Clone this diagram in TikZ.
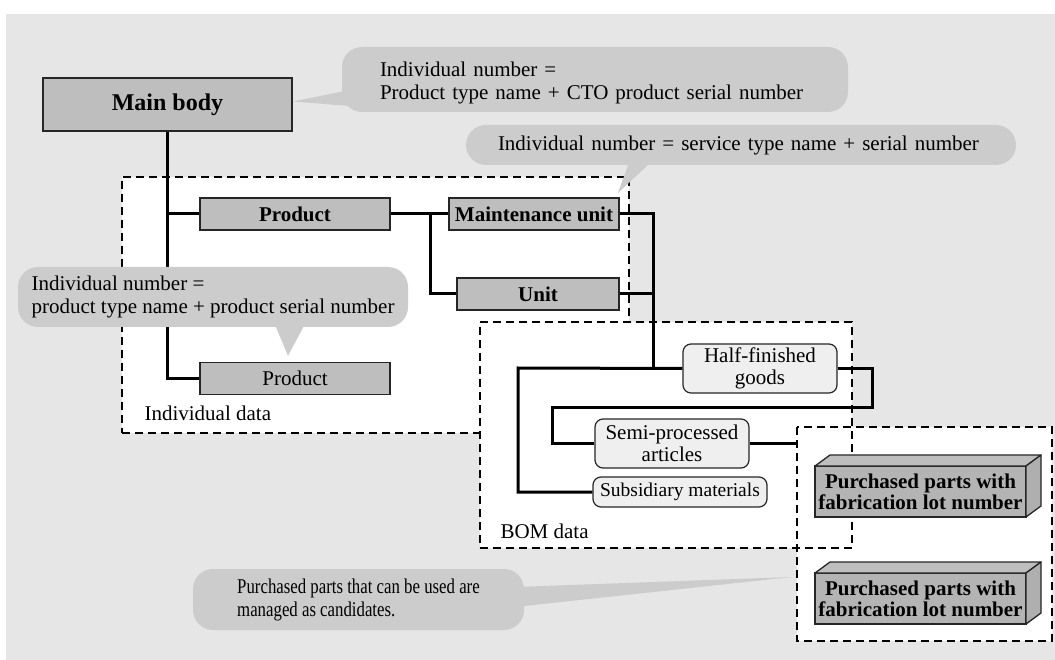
\documentclass[tikz,border=0pt]{standalone}
\usepackage{fontspec}
\setmainfont{Liberation Serif}
\newfontfamily\narrowserif[FakeStretch=0.8]{Liberation Serif}
\usetikzlibrary{positioning}

\definecolor{bggray}{HTML}{E6E6E6}
\definecolor{notegray}{HTML}{CCCCCC}
\definecolor{boxgray}{HTML}{BEBEBE}
\definecolor{softgray}{HTML}{EFEFEF}

\begin{document}
\begin{tikzpicture}[
    x=1pt, y=-1pt,
    font=\fontsize{21}{23}\selectfont,
    box/.style={draw=black!85, line width=1.5pt, fill=boxgray, minimum height=32pt, inner sep=0pt},
    bold/.style={font=\fontsize{21}{23}\selectfont\bfseries},
    soft/.style={draw=black!85, line width=1.2pt, fill=softgray, rounded corners=8pt, align=center, inner sep=0pt},
    block/.style={draw=black!85, line width=1.3pt, fill=boxgray!95!black, outer sep=0pt, minimum width=211pt, minimum height=51pt, inner sep=0pt, align=center, font=\fontsize{21}{21}\selectfont\bfseries},
    face/.style={draw=black!85, line width=1.3pt, line join=round},
    bubble/.style={fill=notegray, rounded corners=20pt, align=left, inner sep=0pt},
    area/.style={draw, line width=2pt, dash pattern=on 8pt off 5pt, fill=white, outer sep=0pt, inner sep=0pt},
    link/.style={line width=3pt}
]
\useasboundingbox (0,0) rectangle (1055,660);
\fill[bggray] (6,14) rectangle (1055,660);

\node[area, minimum width=507pt, minimum height=256pt] (indiv) at (375.5,305) {};
\node[area, draw=none, minimum width=255pt, minimum height=214pt] (buyarea) at (924.5,534) {};
\node[area, minimum width=372pt, minimum height=226pt] (bom) at (666,435) {};
\draw[area, fill=none] (buyarea.north west) rectangle (buyarea.south east);
\node[anchor=base west] (indivlabel) at (141,420) {Individual data};
\node[anchor=base west] (bomlabel) at (497,538) {BOM data};

\node[box, minimum width=249pt, minimum height=53pt, font=\fontsize{24}{24}\selectfont\bfseries] (body) at (167.5,104.5) {Main body};
\node[box, bold, minimum width=190pt] (prod) at (295,214) {Product};
\node[box, minimum width=190pt, below=131pt of prod] (prodind) {Product};
\node[box, bold, minimum width=170pt] (maint) at (534,214) {Maintenance unit};
\node[box, bold, minimum width=162pt] (unit) at (538,294) {Unit};

\node[soft, minimum width=154pt, minimum height=49pt, font=\fontsize{21}{22}\selectfont] (half) at (760,368.5) {Half-finished\\goods};
\node[soft, minimum width=154pt, minimum height=49pt, font=\fontsize{21}{22}\selectfont] (semi) at (672,443.5) {Semi-processed\\articles};
\node[soft, minimum width=174pt, minimum height=30pt, font=\fontsize{19.5}{20}\selectfont] (subs) at (680,492) {Subsidiary materials};

\node[block] (buy1) at (920.5,491.5) {Purchased parts with\\fabrication lot number};
\node[block, below=56pt of buy1] (buy2) {Purchased parts with\\fabrication lot number};
\foreach \b in {buy1,buy2} {
  \filldraw[face, fill=boxgray] (\b.north west) -- ++(15,-11) -- ++(211,0) -- (\b.north east) -- cycle;
  \filldraw[face, fill=boxgray!92!black] (\b.north east) -- ++(15,-11) -- ++(0,51) -- (\b.south east) -- cycle;
}

\coordinate (fork) at (430,214);
\coordinate (hub) at (653,368);
\coordinate (bomleft) at (518,368);
\coordinate (loopright) at (872,407);
\coordinate (loopleft) at (552,407);

\draw[link] (body.south) |- (prodind.west);
\draw[link] (body.south |- prod.west) -- (prod.west);
\draw[link] (prod) -- (maint);
\draw[link] (fork) |- (unit.west);
\draw[link] (maint.east) -| (hub);
\draw[link] (unit.east) -- (unit.east -| hub);
\draw[link] (half.west) -- (bomleft) |- (subs.west);
\draw[link] (half.east) -| (loopright) -- (loopleft) |- (semi.west);
\draw[link] (semi.east) -- (semi.east -| buyarea.west);

\node[bubble, minimum width=506pt, minimum height=65pt, inner xsep=38pt, text width=430pt, text height=22pt] (note1) at (595,79.5) {Individual number =\\Product type name + CTO product serial number};
\fill[notegray] ([xshift=8pt,yshift=-10.5pt]note1.west) -- ([yshift=3pt]body.east) -- ([xshift=8pt,yshift=-26.5pt]note1.west) -- cycle;

\node[bubble, minimum width=550pt, minimum height=40pt, inner xsep=32pt, text width=486pt] (note2) at (741,145) {Individual number = service type name + serial number};
\fill[notegray] ([xshift=-111pt,yshift=5pt]note2.south) -- ([xshift=-2pt,yshift=4pt]maint.north east) -- ([xshift=-88pt,yshift=5pt]note2.south) -- cycle;

\node[bubble, minimum width=390pt, minimum height=60pt] (note3) at (213,297) {Individual number =\\product type name + product serial number};
\fill[notegray] ([xshift=60pt,yshift=7pt]note3.south) -- ([xshift=-7pt,yshift=6pt]prodind.north) -- ([xshift=94pt,yshift=7pt]note3.south) -- cycle;

\coordinate (tip4) at (792,577);
\node[bubble, minimum width=331pt, minimum height=61pt, font=\fontsize{21}{23}\narrowserif] (note4) at (358.5,599.5) {Purchased parts that can be used are\\managed as candidates.};
\fill[notegray] ([xshift=-9pt,yshift=12.5pt]note4.east) -- (tip4) -- ([xshift=-9pt,yshift=-7.5pt]note4.east) -- cycle;
\end{tikzpicture}
\end{document}
